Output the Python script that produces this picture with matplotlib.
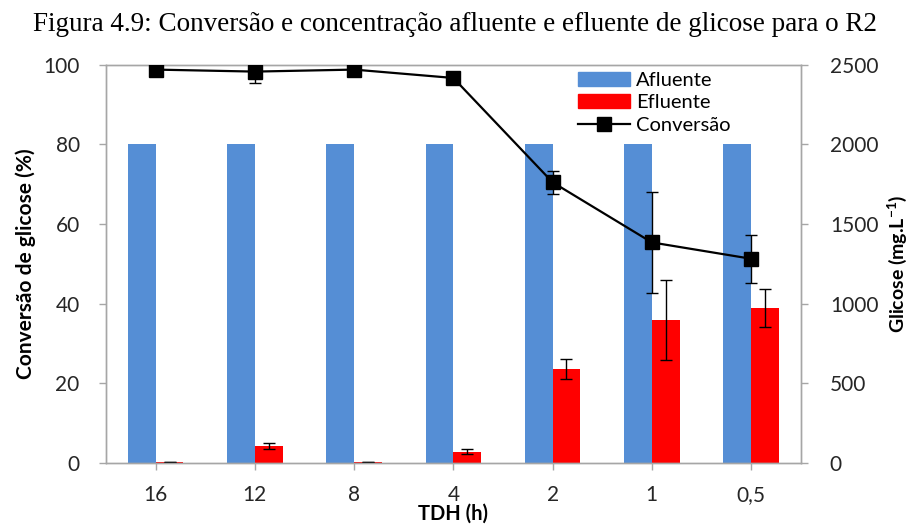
import numpy as np
import matplotlib
matplotlib.use("Agg")
import matplotlib.pyplot as plt
from matplotlib.patches import Patch
from matplotlib.lines import Line2D

# TDH categories
tdh = ["16", "12", "8", "4", "2", "1", "0,5"]

# glucose concentration (mg/L)
afluente = [2000, 2000, 2000, 2000, 2000, 2000, 2000]
efluente = [8, 107, 8, 71, 590, 898, 974]
efluente_err = [0, 18, 0, 15, 60, 253, 120]

# conversion (%)
conversao = [98.8, 98.3, 98.8, 96.7, 70.5, 55.4, 51.3]
conversao_err = [0, 2.8, 0, 0, 2.85, 12.6, 6.0]

BLUE = "#558ED5"
RED = "#FF0000"
GRAY = "#A6A6A6"
SANS = "Lato"

fig = plt.figure(figsize=(9.14, 5.27), dpi=100)
ax = fig.add_axes([0.116, 0.1214, 0.76, 0.7556])
ax2 = ax.twinx()

x = np.arange(len(tdh))
w = 0.28

ax2.bar(x - w / 2, afluente, width=w, color=BLUE, zorder=2)
ax2.bar(x + w / 2, efluente, width=w, color=RED, zorder=2)
ax2.errorbar(x + w / 2, efluente, yerr=efluente_err, fmt="none", ecolor="black",
             elinewidth=1, capsize=4.5, capthick=1, zorder=3)

ax.errorbar(x, conversao, yerr=conversao_err, color="black", lw=1.6, marker="s",
            ms=10.5, mfc="black", mec="black", ecolor="black", elinewidth=1,
            capsize=4.5, capthick=1, zorder=4)

ax.set_zorder(ax2.get_zorder() + 1)
ax.patch.set_visible(False)

ax.set_xlim(-0.5, len(tdh) - 0.5)
ax.set_ylim(0, 100)
ax2.set_ylim(0, 2500)
ax.set_yticks(np.arange(0, 101, 20))
ax2.set_yticks(np.arange(0, 2501, 500))
ax.set_xticks(x)
ax.set_xticklabels(tdh)

for a in (ax, ax2):
    for s in a.spines.values():
        s.set_color(GRAY)
        s.set_linewidth(1)
    a.tick_params(colors=GRAY, labelcolor="#262626", labelsize=15, length=5, width=1)
    for lbl in a.get_xticklabels() + a.get_yticklabels():
        lbl.set_fontfamily(SANS)
ax.tick_params(axis="x", pad=11)
ax.tick_params(axis="y", pad=14)
ax2.tick_params(axis="y", pad=16)

ax.set_ylabel("Conversão de glicose (%)", fontsize=15, fontweight="bold",
              fontfamily=SANS, labelpad=5)
ax2.set_ylabel("Glicose (mg.L$^{\\mathregular{-1}}$)", fontsize=14, fontweight="bold",
               fontfamily=SANS)
ax2.yaxis.set_label_coords(1.121, 0.5)
ax.set_xlabel("TDH (h)", fontsize=14.5, fontweight="bold", fontfamily=SANS, labelpad=-1)

fig.suptitle("Figura 4.9: Conversão e concentração afluente e efluente de glicose para o R2",
             fontsize=19.5, fontfamily="Liberation Serif", x=0.498, y=0.978, va="top")

handles = [Patch(color=BLUE), Patch(color=RED),
           Line2D([0], [0], color="black", lw=1.6, marker="s", ms=10.5)]
leg = ax.legend(handles, ["Afluente", "Efluente", "Conversão"], loc="upper left",
                bbox_to_anchor=(0.653, 1.027), frameon=False, handlelength=2.6,
                handleheight=0.7, handletextpad=0.3, labelspacing=0.25,
                prop={"family": SANS, "size": 14.5})

fig.savefig("out.png", dpi=100)
